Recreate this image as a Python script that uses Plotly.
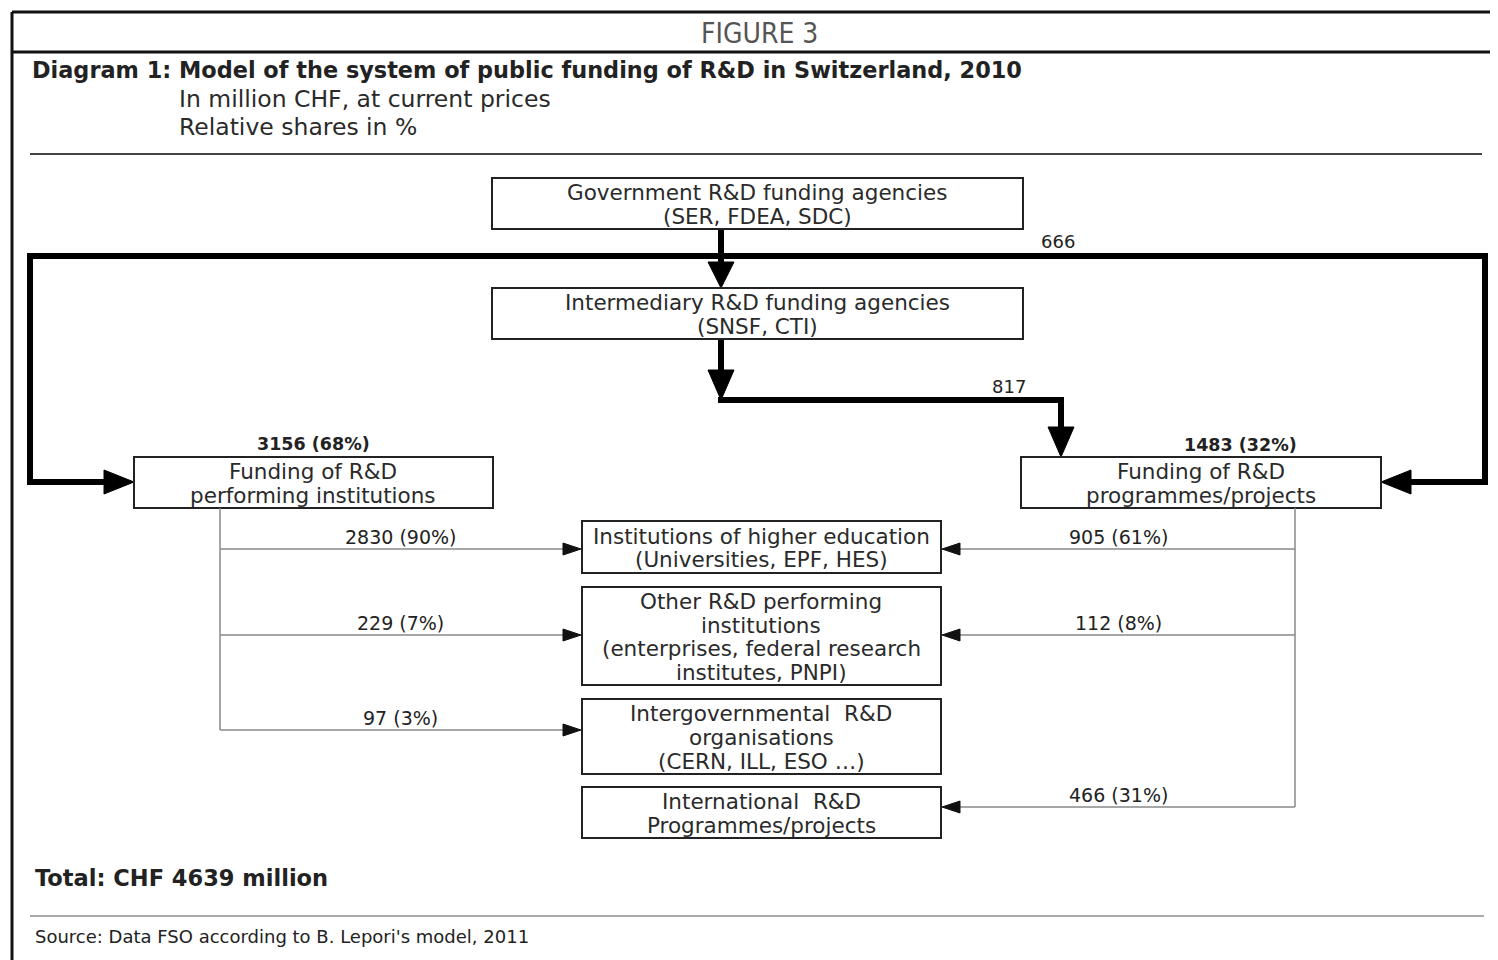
import plotly.graph_objects as go

# ---------------- data ----------------
direct_to_programmes = 666
intermediary_to_programmes = 817
performing_total = 3156
performing_share = 68
programmes_total = 1483
programmes_share = 32
recipients = [["Institutions of higher education", "(Universities, EPF, HES)"],
              ["Other R&D performing", "institutions", "(enterprises, federal research", "institutes, PNPI)"],
              ["Intergovernmental  R&D", "organisations", "(CERN, ILL, ESO …)"],
              ["International  R&D", "Programmes/projects"]]
from_performing = [2830, 229, 97, None]
from_performing_share = [90, 7, 3, None]
from_programmes = [905, 112, None, 466]
from_programmes_share = [61, 8, None, 31]
total = 4639

W, H = 1498, 960
OFF = 8  # browser body margin
FONT = "DejaVu Sans"
fig = go.Figure()
shapes = []
ann = []

def line(x0, y0, x1, y1, w=2, c="#222"):
    shapes.append(dict(type="line", x0=x0, y0=y0, x1=x1, y1=y1, xref="x", yref="y",
                       line=dict(color=c, width=w)))

def path(pts, c="#000"):
    d = "M " + " L ".join(f"{x},{y}" for x, y in pts) + " Z"
    shapes.append(dict(type="path", path=d, xref="x", yref="y", fillcolor=c,
                       line=dict(color=c, width=1)))

def box(x0, y0, x1, y1, w=2):
    shapes.append(dict(type="rect", x0=x0, y0=y0, x1=x1, y1=y1, xref="x", yref="y",
                       line=dict(color="#222", width=w), fillcolor="white"))

def text(x, y, t, size=19, bold=False, color="#222", anchor="center", family=FONT):
    if bold:
        t = f"<b>{t}</b>"
    ann.append(dict(x=x, y=y, xref="x", yref="y", text=t, showarrow=False,
                    xanchor=anchor, yanchor="middle",
                    font=dict(size=size, color=color, family=family)))

BF = 21.5
LS = 23.7

def box_text(xc, y0, y1, lines):
    n = len(lines)
    yc = (y0 + y1) / 2
    for i, t in enumerate(lines):
        text(xc, yc + (i - (n - 1) / 2) * LS + 1, t, size=BF, color="#2a2a2a")

def arrow_down(x, tip, size=13, h=26):
    path([(x, tip), (x - size, tip - h), (x + size, tip - h)])

def arrow_right(tip, y, size=12, h=30):
    path([(tip, y), (tip - h, y - size), (tip - h, y + size)])

def arrow_left(tip, y, size=12, h=30):
    path([(tip, y), (tip + h, y - size), (tip + h, y + size)])

# ------- frame & header -------
for yy in (12, 52):
    shapes.append(dict(type="line", xref="x", yref="y", x0=12, x1=W + 20, y0=yy, y1=yy,
                       line=dict(color="#111", width=3)))
line(12, 12, 12, H + 5, 3, "#111")
text(759, 33, "FIGURE 3", size=28, color="#555",
     family="DejaVu Sans Condensed, Roboto Condensed, Liberation Sans Narrow, sans-serif")
text(30, 70, "Diagram 1: Model of the system of public funding of R&D in Switzerland, 2010",
     size=22.4, bold=True, anchor="left")
text(177, 99, "In million CHF, at current prices", size=23.5, anchor="left", color="#2a2a2a")
text(177, 127, "Relative shares in %", size=23.5, anchor="left", color="#2a2a2a")
line(30, 154, 1482, 154, 2, "#444")

# ------- thick flows -------
TW = 6
line(721, 229, 721, 265, TW, "#000")
arrow_down(721, 288)
line(30, 256, 1485, 256, TW, "#000")
line(30, 253, 30, 485, TW, "#000")
line(1485, 253, 1485, 485, TW, "#000")
line(27, 482, 110, 482, TW, "#000")
line(1488, 482, 1405, 482, TW, "#000")
arrow_right(134, 482)
arrow_left(1381, 482)
text(1058, 241, str(direct_to_programmes), size=18)

line(721, 339, 721, 375, TW, "#000")
arrow_down(721, 400, h=30)
line(718, 400, 1064, 400, TW, "#000")
line(1061, 397, 1061, 433, TW, "#000")
arrow_down(1061, 457, h=30)
text(1009, 386, str(intermediary_to_programmes), size=18)

# ------- boxes top -------
box(492, 178, 1023, 229)
box_text(757, 178, 229, ["Government R&D funding agencies", "(SER, FDEA, SDC)"])
box(492, 288, 1023, 339)
box_text(757, 288, 339, ["Intermediary R&D funding agencies", "(SNSF, CTI)"])

box(134, 457, 493, 508)
box_text(313, 457, 508, ["Funding of R&D", "performing institutions"])
text(313, 444, f"{performing_total} ({performing_share}%)", size=17.5, bold=True)
box(1021, 457, 1381, 508)
box_text(1201, 457, 508, ["Funding of R&D", "programmes/projects"])
text(1240, 445, f"{programmes_total} ({programmes_share}%)", size=17.5, bold=True)

# ------- recipient boxes -------
rboxes = [(521, 573), (587, 685), (699, 774), (787, 838)]
arrow_y = [549, 635, 730, 807]
for (y0, y1), t in zip(rboxes, recipients):
    box(582, y0, 941, y1)
    box_text(761, y0, y1, t)

GRAY = "#888"
last_left = max(y for y, v in zip(arrow_y, from_performing) if v is not None)
line(220, 508, 220, last_left, 1.5, GRAY)
for y, v, s in zip(arrow_y, from_performing, from_performing_share):
    if v is None:
        continue
    line(220, y, 565, y, 1.5, GRAY)
    path([(581, y), (563, y - 6), (563, y + 6)], "#111")
    text(400, y - 12, f"{v} ({s}%)", size=19)
last_right = max(y for y, v in zip(arrow_y, from_programmes) if v is not None)
line(1295, 508, 1295, last_right, 1.5, GRAY)
for y, v, s in zip(arrow_y, from_programmes, from_programmes_share):
    if v is None:
        continue
    line(958, y, 1295, y, 1.5, GRAY)
    path([(942, y), (960, y - 6), (960, y + 6)], "#111")
    text(1118, y - 12, f"{v} ({s}%)", size=19)

# ------- footer -------
text(33, 878, f"Total: CHF {total} million", size=22.5, bold=True, anchor="left")
line(30, 916, 1484, 916, 2, "#aaa")
text(33, 936, "Source: Data FSO according to B. Lepori's model, 2011", size=18, anchor="left")

fig.update_layout(
    width=W - OFF, height=H - OFF, margin=dict(l=0, r=0, t=0, b=0),
    paper_bgcolor="white", plot_bgcolor="white",
    xaxis=dict(range=[OFF, W], visible=False, fixedrange=True),
    yaxis=dict(range=[H, OFF], visible=False, fixedrange=True),
    shapes=shapes, annotations=ann, showlegend=False,
)
fig.write_html("out.html", config={"displayModeBar": False})
